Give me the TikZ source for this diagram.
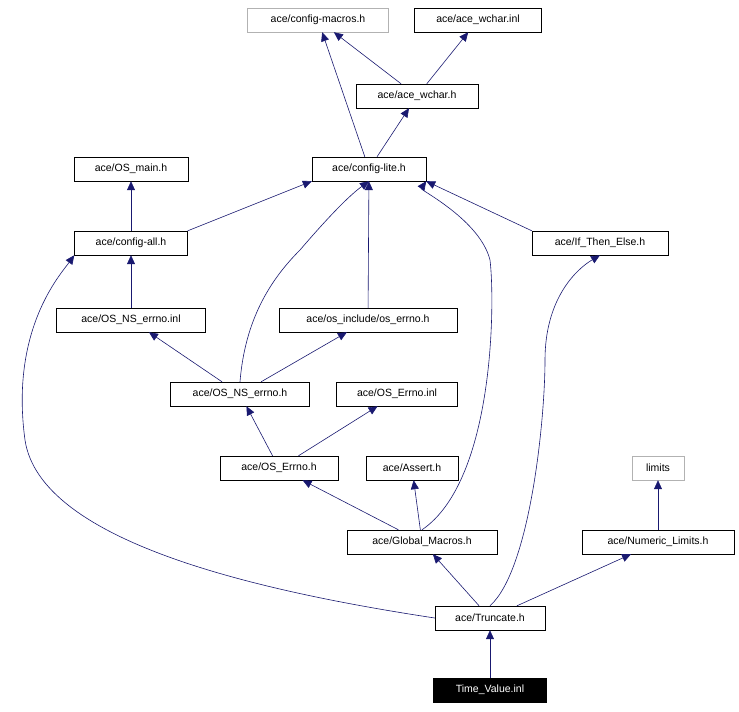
\documentclass[tikz,border=0pt]{standalone}
\usepackage{fontspec}
\setmainfont{Liberation Sans}
\usetikzlibrary{arrows.meta}
\begin{document}
\begin{tikzpicture}[x=1pt,y=-1pt,
 n/.style={draw=black,fill=white,minimum height=24pt,inner xsep=4pt,font=\fontsize{10.5}{12}\selectfont},
 g/.style={n,draw=gray!60},
 e/.style={draw=blue!30!black!80!blue,-{Triangle[length=9pt,width=8pt]},fill=none,line width=0.5pt}]
\useasboundingbox (0,0) rectangle (739,712);
\tikzset{e/.style={draw={rgb,255:red,25;green,25;blue,112},-{Triangle[length=9pt,width=8pt,fill={rgb,255:red,25;green,25;blue,112}]},line width=0.6pt}}
\node[g,minimum width=141pt] (cm) at (318,20) {ace/config-macros.h};
\node[n,minimum width=127pt] (wi) at (478,20) {ace/ace\_wchar.inl};
\node[n,minimum width=122pt] (wh) at (417,96) {ace/ace\_wchar.h};
\node[n,minimum width=114pt] (om) at (131,169) {ace/OS\_main.h};
\node[n,minimum width=114pt] (cl) at (369,169) {ace/config-lite.h};
\node[n,minimum width=113pt] (ca) at (131,243) {ace/config-all.h};
\node[n,minimum width=136pt] (it) at (600,243) {ace/If\_Then\_Else.h};
\node[n,minimum width=149pt] (nei) at (131,320) {ace/OS\_NS\_errno.inl};
\node[n,minimum width=178pt] (oe) at (368,320) {ace/os\_include/os\_errno.h};
\node[n,minimum width=139pt] (ne) at (240,394) {ace/OS\_NS\_errno.h};
\node[n,minimum width=121pt] (ei) at (397,394) {ace/OS\_Errno.inl};
\node[n,minimum width=118pt] (eh) at (279,468) {ace/OS\_Errno.h};
\node[n,minimum width=92pt] (as) at (412,468) {ace/Assert.h};
\node[g,minimum width=52pt] (li) at (658,468) {limits};
\node[n,minimum width=150pt] (gm) at (422,542) {ace/Global\_Macros.h};
\node[n,minimum width=152pt] (nl) at (658,542) {ace/Numeric\_Limits.h};
\node[n,minimum width=110pt] (tr) at (490,618) {ace/Truncate.h};
\node[n,minimum width=113pt,fill=black,text=white] (tv) at (490,690) {Time\_Value.inl};
\draw[e] (tv) -- (tr);
\draw[e] (tr.west) .. controls (250,590) and (40,540) .. (25,440) .. controls (10,330) and (60,275) .. (ca.south west) ;
\draw[e] (tr) -- (gm);
\draw[e] (tr) -- (nl);
\draw[e] (tr.north) .. controls (530,570) and (545,420) .. (545,360) .. controls (545,300) and (575,270) .. (it.south);
\draw[e] (gm) -- (eh);
\draw[e] (gm) -- (as);
\draw[e] (gm.north) .. controls (495,480) and (495,300) .. (490,260) .. controls (480,220) and (420,190) .. (cl.south east);
\draw[e] (nl) -- (li);
\draw[e] (eh) -- (ne);
\draw[e] (eh) -- (ei);
\draw[e] (ne) -- (nei);
\draw[e] (ne) -- (oe);
\draw[e] (ne.north) .. controls (245,320) and (270,280) .. (300,250) .. controls (330,215) and (350,195) .. (cl.south);
\draw[e] (nei) -- (ca);
\draw[e] (oe) -- (cl);
\draw[e] (ca) -- (om);
\draw[e] (ca.north east) -- (cl.south west);
\draw[e] (it.north west) -- (cl.south east);
\draw[e] (cl) -- (cm);
\draw[e] (cl) -- (wh);
\draw[e] (wh) -- (cm);
\draw[e] (wh) -- (wi);
\end{tikzpicture}
\end{document}
